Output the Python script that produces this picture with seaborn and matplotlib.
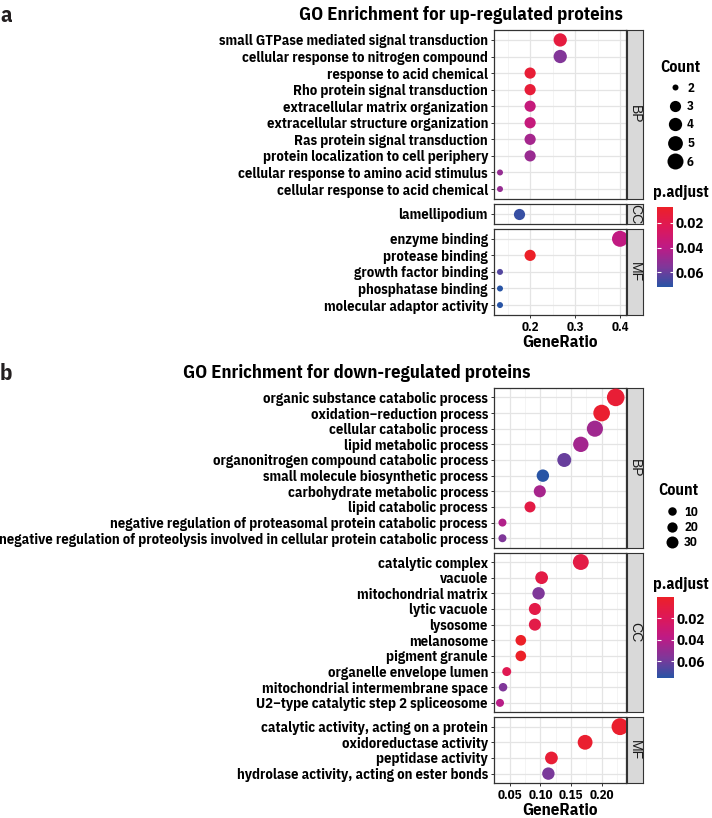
import numpy as np
import pandas as pd
import matplotlib
matplotlib.use("Agg")
import matplotlib.pyplot as plt
import seaborn as sns
from matplotlib import font_manager as fm
from matplotlib.font_manager import FontProperties
from matplotlib.textpath import TextPath
from matplotlib.colors import LinearSegmentedColormap, Normalize
from matplotlib.cm import ScalarMappable
from matplotlib.lines import Line2D
from matplotlib.ticker import MultipleLocator, FormatStrFormatter

# ---------------- data : up-regulated ----------------
up_bp_terms = ["small GTPase mediated signal transduction",
               "cellular response to nitrogen compound",
               "response to acid chemical",
               "Rho protein signal transduction",
               "extracellular matrix organization",
               "extracellular structure organization",
               "Ras protein signal transduction",
               "protein localization to cell periphery",
               "cellular response to amino acid stimulus",
               "cellular response to acid chemical"]
up_bp_ratio = [0.267, 0.267, 0.200, 0.200, 0.200, 0.200, 0.200, 0.200, 0.133, 0.133]
up_bp_count = [4, 4, 3, 3, 3, 3, 3, 3, 2, 2]
up_bp_padj = [0.015, 0.055, 0.012, 0.013, 0.036, 0.036, 0.046, 0.049, 0.050, 0.050]

up_cc_terms = ["lamellipodium"]
up_cc_ratio = [0.176]
up_cc_count = [3]
up_cc_padj = [0.069]

up_mf_terms = ["enzyme binding", "protease binding", "growth factor binding",
               "phosphatase binding", "molecular adaptor activity"]
up_mf_ratio = [0.400, 0.200, 0.133, 0.133, 0.133]
up_mf_count = [6, 3, 2, 2, 2]
up_mf_padj = [0.038, 0.007, 0.064, 0.072, 0.072]

# ---------------- data : down-regulated ----------------
dn_bp_terms = ["organic substance catabolic process",
               "oxidation\u2212reduction process",
               "cellular catabolic process",
               "lipid metabolic process",
               "organonitrogen compound catabolic process",
               "small molecule biosynthetic process",
               "carbohydrate metabolic process",
               "lipid catabolic process",
               "negative regulation of proteasomal protein catabolic process",
               "negative regulation of proteolysis involved in cellular protein catabolic process"]
dn_bp_ratio = [0.223, 0.200, 0.189, 0.166, 0.139, 0.104, 0.099, 0.083, 0.038, 0.038]
dn_bp_count = [36, 32, 30, 27, 22, 17, 16, 13, 6, 6]
dn_bp_padj = [0.006, 0.004, 0.047, 0.046, 0.062, 0.0755, 0.045, 0.012, 0.042, 0.057]

dn_cc_terms = ["catalytic complex", "vacuole", "mitochondrial matrix", "lytic vacuole",
               "lysosome", "melanosome", "pigment granule", "organelle envelope lumen",
               "mitochondrial intermembrane space", "U2\u2212type catalytic step 2 spliceosome"]
dn_cc_ratio = [0.166, 0.102, 0.097, 0.091, 0.091, 0.068, 0.068, 0.045, 0.039, 0.034]
dn_cc_count = [29, 18, 17, 16, 16, 12, 12, 8, 7, 6]
dn_cc_padj = [0.012, 0.012, 0.057, 0.013, 0.013, 0.0005, 0.0005, 0.017, 0.057, 0.040]

dn_mf_terms = ["catalytic activity, acting on a protein", "oxidoreductase activity",
               "peptidase activity", "hydrolase activity, acting on ester bonds"]
dn_mf_ratio = [0.230, 0.173, 0.118, 0.113]
dn_mf_count = [33, 25, 18, 17]
dn_mf_padj = [0.003, 0.004, 0.006, 0.058]

ontologies = ["BP", "CC", "MF"]
up_title = "GO Enrichment for up-regulated proteins"
dn_title = "GO Enrichment for down-regulated proteins"
up_count_breaks = [2, 3, 4, 5, 6]
dn_count_breaks = [10, 20, 30]
padj_breaks = [0.02, 0.04, 0.06]


def make_df(terms, ratio, count, padj):
    return pd.DataFrame({"Description": terms, "GeneRatio": ratio,
                         "Count": count, "p.adjust": padj})


up = {"BP": make_df(up_bp_terms, up_bp_ratio, up_bp_count, up_bp_padj),
      "CC": make_df(up_cc_terms, up_cc_ratio, up_cc_count, up_cc_padj),
      "MF": make_df(up_mf_terms, up_mf_ratio, up_mf_count, up_mf_padj)}
dn = {"BP": make_df(dn_bp_terms, dn_bp_ratio, dn_bp_count, dn_bp_padj),
      "CC": make_df(dn_cc_terms, dn_cc_ratio, dn_cc_count, dn_cc_padj),
      "MF": make_df(dn_mf_terms, dn_mf_ratio, dn_mf_count, dn_mf_padj)}

# ---------------- style ----------------
W, H, DPI = 712, 818, 100
PT = 72.0 / DPI  # points per pixel

FAM = "Liberation Sans"
for cand in ["IBM Plex Sans Condensed", "Fira Sans Condensed", "Liberation Sans"]:
    try:
        fm.findfont(FontProperties(family=cand, weight="bold"), fallback_to_default=False)
        FAM = cand
        break
    except Exception:
        continue
FAMS = [FAM, "DejaVu Sans"]
plt.rcParams["font.family"] = FAMS
STRIP_FAMS = ["Liberation Sans", "DejaVu Sans"]


def _ext(text, weight, fam=None):
    fp = FontProperties(family=fam or FAM, weight=weight)
    return TextPath((0, 0), text, size=10, prop=fp).get_extents()


def fit_width(text, target_px, weight="bold"):
    return 10.0 * target_px * PT / _ext(text, weight).width


def fit_height(text, target_px, weight="bold", fam=None):
    return 10.0 * target_px * PT / _ext(text, weight, fam).height


FS_LABEL = fit_width("small GTPase mediated signal transduction", 269)
FS_TITLE = fit_width(up_title, 323)
FS_XLAB = fit_width("GeneRatio", 74)
FS_XTICK = fit_height("0.05", 9.3)
FS_LEGT = fit_width("p.adjust", 54)
FS_PADJ = fit_width("0.02", 27)
FS_CNT = fit_height("10", 9.2)
FS_TAG = fit_height("b", 17)
FS_STRIP = fit_height("BP", 9.6, weight="normal", fam="Liberation Sans")

BORDER = "#333333"
STRIP_FILL = "#D9D9D9"
GRID_MAJ = "#E4E4E4"
GRID_MIN = "#F0F0F0"

cmap = LinearSegmentedColormap.from_list(
    "padj", list(zip([0.0, 0.25, 0.5, 0.76, 1.0],
                     ["#EC2028", "#DE1858", "#BE1A85", "#7D389A", "#2854A5"])))

fig = plt.figure(figsize=(W / DPI, H / DPI), dpi=DPI)
fig.patch.set_facecolor("white")


def px_axes(x0, y0, x1, y1):
    return fig.add_axes([x0 / W, 1 - y1 / H, (x1 - x0) / W, (y1 - y0) / H])


def size_scale(levels, cmin, cmax, dmin_px, dmax_px, q):
    out = {}
    for c in levels:
        t = (c - cmin) / (cmax - cmin)
        d2 = dmin_px ** 2 + (dmax_px ** 2 - dmin_px ** 2) * max(t, 0) ** q
        out[c] = d2 * PT ** 2
    return out


def draw_block(dfs, top, bottom, left, right, major, fmt, size_map, xlab_pad):
    allr = np.concatenate([dfs[o]["GeneRatio"].values for o in ontologies])
    allp = np.concatenate([dfs[o]["p.adjust"].values for o in ontologies])
    span = allr.max() - allr.min()
    xlim = (allr.min() - 0.05 * span, allr.max() + 0.05 * span)
    hue_norm = (allp.min(), allp.max())
    gap = 5.0
    n = [len(dfs[o]) for o in ontologies]
    unit = (bottom - top - gap * (len(n) - 1)) / sum(k + 0.2 for k in n)
    y = top
    for i, o in enumerate(ontologies):
        d = dfs[o]
        h = unit * (len(d) + 0.2)
        ax = px_axes(left, y, right, y + h)
        sns.scatterplot(data=d, x="GeneRatio", y="Description", size="Count",
                        sizes=size_map, hue="p.adjust", hue_norm=hue_norm,
                        palette=cmap, legend=False, linewidth=0, ax=ax, zorder=3)
        ax.set_xlim(*xlim)
        ax.set_ylim(len(d) - 0.4, -0.6)
        ax.xaxis.set_major_locator(MultipleLocator(major))
        ax.xaxis.set_minor_locator(MultipleLocator(major / 2))
        ax.xaxis.set_major_formatter(FormatStrFormatter(fmt))
        ax.grid(which="major", color=GRID_MAJ, lw=0.9)
        ax.grid(which="minor", axis="x", color=GRID_MIN, lw=0.5)
        ax.set_axisbelow(True)
        ax.set_ylabel("")
        ax.set_xlabel("")
        for s in ax.spines.values():
            s.set_color(BORDER)
            s.set_linewidth(0.9)
        ax.tick_params(axis="y", length=3 * PT, width=0.7, color=BORDER, pad=2.2,
                       labelsize=FS_LABEL, labelcolor="black")
        ax.tick_params(axis="x", which="minor", length=0)
        for lab in ax.get_yticklabels():
            lab.set_fontweight("bold")
        if i < len(ontologies) - 1:
            ax.tick_params(axis="x", which="both", bottom=False, labelbottom=False)
        else:
            ax.tick_params(axis="x", which="major", length=3 * PT, width=0.7,
                           color=BORDER, pad=2.2, labelsize=FS_XTICK,
                           labelcolor="black")
            for lab in ax.get_xticklabels():
                lab.set_fontweight("bold")
            ax.set_xlabel("GeneRatio", fontsize=FS_XLAB, fontweight="bold",
                          labelpad=xlab_pad)
        # facet strip
        sax = px_axes(right + 1, y, right + 17, y + h)
        sax.set_facecolor(STRIP_FILL)
        sax.set_xticks([])
        sax.set_yticks([])
        for s in sax.spines.values():
            s.set_color(BORDER)
            s.set_linewidth(0.8)
        sax.text(0.5, 0.5, o, rotation=270, ha="center", va="center",
                 transform=sax.transAxes, fontsize=FS_STRIP, color="#1A1A1A",
                 family=STRIP_FAMS)
        y += h + gap
    return hue_norm


def draw_colorbar(hue_norm, x0, y0, x1, y1):
    cax = px_axes(x0, y0, x1, y1)
    sm = ScalarMappable(norm=Normalize(*hue_norm), cmap=cmap)
    cb = fig.colorbar(sm, cax=cax)
    cb.outline.set_visible(False)
    cb.set_ticks(padj_breaks)
    cb.ax.yaxis.set_major_formatter(FormatStrFormatter("%.2f"))
    cb.ax.invert_yaxis()
    cb.ax.tick_params(direction="in", length=3.5 * PT, width=0.8, color="white",
                      left=True, right=True, labelleft=False, labelright=True,
                      labelsize=FS_PADJ, pad=2)
    for lab in cb.ax.get_yticklabels():
        lab.set_fontweight("bold")


def draw_count_legend(levels, sizes_px, x_center, y_first, pitch):
    handles = [Line2D([], [], ls="", marker="o", markersize=d * PT,
                      markerfacecolor="black", markeredgewidth=0, color="black")
               for d in sizes_px]
    fs_px = FS_CNT / PT
    hl = 1.2
    x_left = x_center - hl * fs_px / 2
    spacing, y_anchor = 0.5, y_first - fs_px * 0.6

    def build(sp, ya):
        return fig.legend(handles, [str(v) for v in levels], loc="upper left",
                          bbox_to_anchor=(x_left / W, 1 - ya / H),
                          frameon=False, borderpad=0, borderaxespad=0,
                          handlelength=hl, handletextpad=0.35, labelspacing=sp,
                          prop={"family": FAMS, "weight": "bold", "size": FS_CNT})

    for _ in range(3):
        leg = build(spacing, y_anchor)
        fig.canvas.draw()
        r = fig.canvas.get_renderer()
        cy = [H - 0.5 * (b.y0 + b.y1) for b in
              (t.get_window_extent(r) for t in leg.get_texts())]
        got_pitch = np.mean(np.diff(cy))
        spacing += (pitch - got_pitch) / fs_px
        y_anchor += y_first - cy[0]
        leg.remove()
    return build(spacing, y_anchor)


# ---------------- panel a ----------------
up_sizes = size_scale(sorted(set(up_bp_count + up_cc_count + up_mf_count) | set(up_count_breaks)),
                      2, 6, 6.0, 16.0, 0.65)
up_norm = draw_block(up, 30, 315, 494, 626, 0.1, "%.1f", up_sizes, 1.0)
fig.text(0, 1 - 21.5 / H, "a", fontsize=FS_TAG, fontweight="bold", color="#231F20",
         ha="left", va="baseline")
fig.text(461 / W, 1 - 20 / H, up_title, fontsize=FS_TITLE, fontweight="bold",
         ha="center", va="baseline")
fig.text(660 / W, 1 - 68 / H, "Count", fontsize=FS_LEGT, fontweight="bold",
         ha="left", va="center")
fig.text(653 / W, 1 - 193 / H, "p.adjust", fontsize=FS_LEGT, fontweight="bold",
         ha="left", va="center")
draw_colorbar(up_norm, 657, 207, 673, 287)

# ---------------- panel b ----------------
dn_levels = sorted(set(dn_bp_count + dn_cc_count + dn_mf_count))
dn_sizes = size_scale(dn_levels, 6, 36, 8.0, 17.6, 1.0)
dn_norm = draw_block(dn, 388, 783, 494, 626, 0.05, "%.2f", dn_sizes, 0.5)
fig.text(0, 1 - 380.5 / H, "b", fontsize=FS_TAG, fontweight="bold", color="#231F20",
         ha="left", va="baseline")
fig.text(357 / W, 1 - 378 / H, dn_title, fontsize=FS_TITLE, fontweight="bold",
         ha="center", va="baseline")
fig.text(658 / W, 1 - 490 / H, "Count", fontsize=FS_LEGT, fontweight="bold",
         ha="left", va="center")
fig.text(653 / W, 1 - 585 / H, "p.adjust", fontsize=FS_LEGT, fontweight="bold",
         ha="left", va="center")
draw_colorbar(dn_norm, 657, 597, 674, 678)

# count legends (placed after the rest of the layout exists)
draw_count_legend(up_count_breaks, [np.sqrt(up_sizes[c]) / PT for c in up_count_breaks],
                  675, 88, 18.5)
draw_count_legend(dn_count_breaks, [8.5, 10.3, 12.0], 672, 512, 15.5)

fig.savefig("out.png", dpi=DPI, facecolor="white")
